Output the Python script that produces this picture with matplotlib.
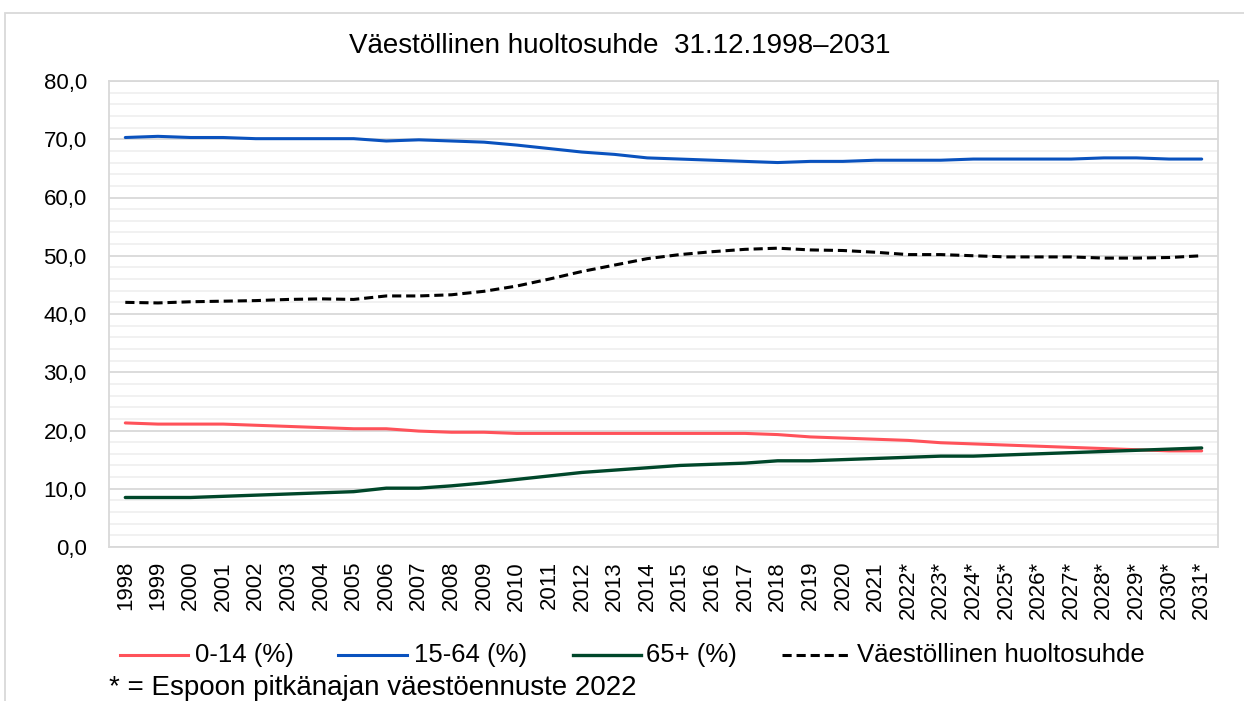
import matplotlib
matplotlib.use("Agg")
import matplotlib.pyplot as plt
from matplotlib.patches import Rectangle
from matplotlib.lines import Line2D
from matplotlib.ticker import MultipleLocator, FuncFormatter

years = ["1998", "1999", "2000", "2001", "2002", "2003", "2004", "2005", "2006", "2007",
         "2008", "2009", "2010", "2011", "2012", "2013", "2014", "2015", "2016", "2017",
         "2018", "2019", "2020", "2021", "2022*", "2023*", "2024*", "2025*", "2026*",
         "2027*", "2028*", "2029*", "2030*", "2031*"]

age_0_14 = [21.3, 21.1, 21.1, 21.1, 20.9, 20.7, 20.5, 20.3, 20.3, 19.9,
            19.7, 19.7, 19.5, 19.5, 19.5, 19.5, 19.5, 19.5, 19.5, 19.5,
            19.3, 18.9, 18.7, 18.5, 18.3, 17.9, 17.7, 17.5, 17.3, 17.1,
            16.9, 16.7, 16.5, 16.5]
age_15_64 = [70.3, 70.5, 70.3, 70.3, 70.1, 70.1, 70.1, 70.1, 69.7, 69.9,
             69.7, 69.5, 69.0, 68.4, 67.8, 67.4, 66.8, 66.6, 66.4, 66.2,
             66.0, 66.2, 66.2, 66.4, 66.4, 66.4, 66.6, 66.6, 66.6, 66.6,
             66.8, 66.8, 66.6, 66.6]
age_65 = [8.5, 8.5, 8.5, 8.7, 8.9, 9.1, 9.3, 9.5, 10.1, 10.1,
          10.5, 11.0, 11.6, 12.2, 12.8, 13.2, 13.6, 14.0, 14.2, 14.4,
          14.8, 14.8, 15.0, 15.2, 15.4, 15.6, 15.6, 15.8, 16.0, 16.2,
          16.4, 16.6, 16.8, 17.0]
dependency = [42.0, 41.9, 42.1, 42.2, 42.3, 42.5, 42.6, 42.5, 43.1, 43.1,
              43.3, 43.9, 44.8, 46.0, 47.3, 48.4, 49.5, 50.2, 50.7, 51.1,
              51.3, 51.0, 50.9, 50.6, 50.2, 50.2, 50.0, 49.8, 49.8, 49.8,
              49.6, 49.6, 49.7, 50.0]

labels = ["0-14 (%)", "15-64 (%)", "65+ (%)", "Väestöllinen huoltosuhde"]
title = "Väestöllinen huoltosuhde  31.12.1998–2031"
footnote = "* = Espoon pitkänajan väestöennuste 2022"

plt.rcParams['font.family'] = ['Liberation Sans', 'DejaVu Sans']

fig = plt.figure(figsize=(12.44, 7.01), dpi=100)
W, H = 1244, 701
ax = fig.add_axes([109 / W, 1 - 547 / H, (1218 - 109) / W, (547 - 81) / H])

colors = ["#FF525A", "#0A52BE", "#00472A", "black"]
styles = ["-", "-", "-", (0, (3, 1.6))]
widths = [2.2, 2.2, 2.4, 2.2]
series = [age_0_14, age_15_64, age_65, dependency]

x = list(range(len(years)))
for vals, c, ls, lw, lab in zip(series, colors, styles, widths, labels):
    ax.plot(x, vals, color=c, lw=lw, ls=ls, label=lab, solid_capstyle="round")

ax.set_xlim(-0.5, len(years) - 0.5)
ax.set_ylim(0, 80)
ax.yaxis.set_major_locator(MultipleLocator(10))
ax.yaxis.set_minor_locator(MultipleLocator(2))
ax.yaxis.set_major_formatter(FuncFormatter(lambda v, p: f"{v:.1f}".replace(".", ",")))
ax.grid(which="major", axis="y", color="#D9D9D9", lw=1.3)
ax.grid(which="minor", axis="y", color="#F0F0F0", lw=1.3)
ax.set_axisbelow(True)
ax.set_xticks(x)
ax.set_xticklabels(years, rotation=90, fontsize=16)
ax.tick_params(axis="y", labelsize=16, length=0, pad=16, which="both")
ax.tick_params(axis="x", length=0, pad=10)
for s in ax.spines.values():
    s.set_color("#D9D9D9")
    s.set_linewidth(1.3)

fig.text(620 / W, 1 - 46 / H, title, ha="center", va="center", fontsize=20)

# legend, placed by hand to follow the reference layout
leg_y = 1 - 655 / H
leg_items = [(120, 188, 195), (338, 407, 414), (573, 641, 646), (782, 852, 857)]
for (x0, x1, xt), c, ls, lw, lab in zip(leg_items, colors, styles, widths, labels):
    fig.add_artist(Line2D([x0 / W, x1 / W], [leg_y, leg_y], transform=fig.transFigure,
                          color=c, ls=ls, lw=lw))
    fig.text(xt / W, leg_y, lab, ha="left", va="center", fontsize=18.5)

fig.text(109 / W, 1 - 688 / H, footnote, ha="left", va="center", fontsize=20)

fig.patches.append(Rectangle((5 / W, -0.05), 1.1, 1 - 13 / H + 0.05, transform=fig.transFigure,
                             fill=False, edgecolor="#D9D9D9", lw=1.3))

fig.savefig("out.png", dpi=100)
